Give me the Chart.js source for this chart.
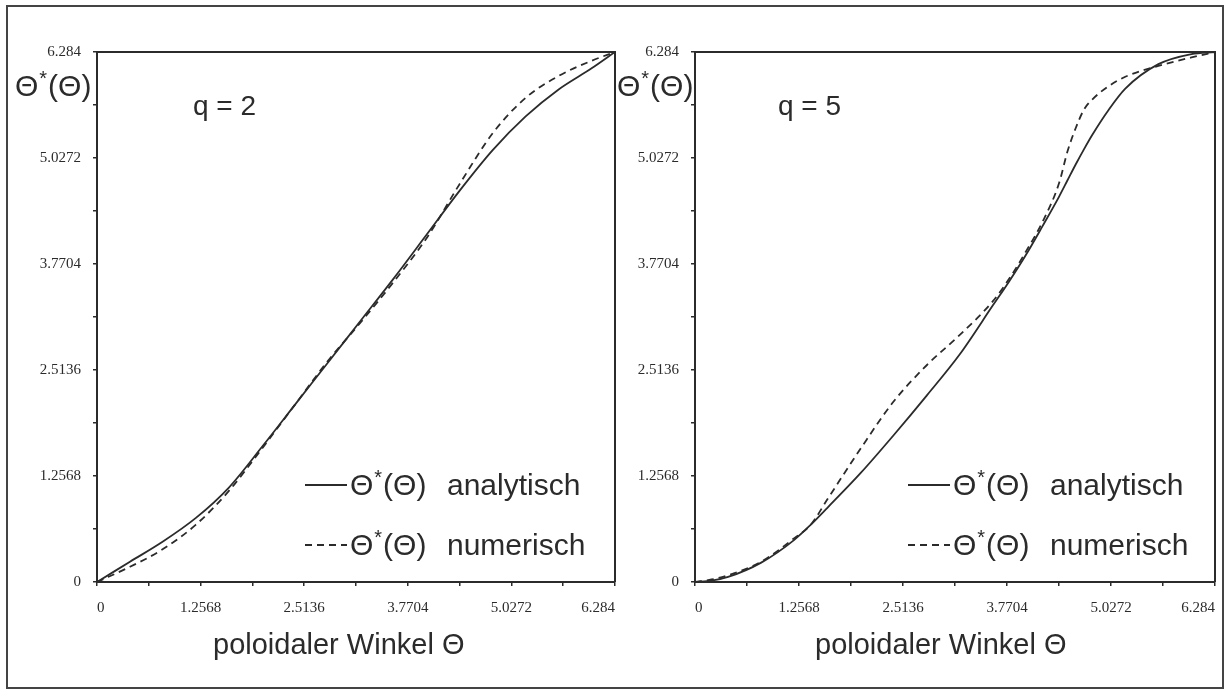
<!DOCTYPE html>
<html>
<head>
<meta charset="utf-8">
<script src="https://cdn.jsdelivr.net/npm/chart.js@4.4.1/dist/chart.umd.min.js"></script>
<style>
    body { margin: 0; background: #fff; width: 1226px; height: 692px; overflow: hidden; position: relative; }
    #frame { position: absolute; left: 6px; top: 5px; width: 1218px; height: 684px; border: 2px solid #444; box-sizing: border-box; }
    .panel { position: absolute; top: 0; }
    #left { left: 0; }
    #right { left: 600px; }
</style>
</head>
<body>
<div id="frame"></div>
<canvas id="left" class="panel" width="650" height="692"></canvas>
<canvas id="right" class="panel" width="626" height="692"></canvas>
<script>
// --- Data ---
const tickValues = [0, 0.6284, 1.2568, 1.8852, 2.5136, 3.142, 3.7704, 4.3988, 5.0272, 5.6556, 6.284];
const tickLabels = ['0', '', '1.2568', '', '2.5136', '', '3.7704', '', '5.0272', '', '6.284'];
const legendWords = ['analytisch', 'numerisch'];

// q = 2
const thetaQ2 = [0, 0.4, 0.8, 1.2, 1.6, 2.0, 2.4, 2.8, 3.2, 3.6, 4.0, 4.4, 4.8, 5.2, 5.6, 6.0, 6.284];
const q2Analytic = [0, 0.24, 0.48, 0.76, 1.12, 1.6, 2.1, 2.6, 3.1, 3.6, 4.12, 4.64, 5.12, 5.52, 5.84, 6.09, 6.284];
const q2Numeric = [0, 0.18, 0.39, 0.68, 1.08, 1.58, 2.1, 2.62, 3.08, 3.56, 4.08, 4.72, 5.32, 5.74, 6.0, 6.18, 6.284];

// q = 5
const thetaQ5 = [0, 0.2, 0.4, 0.8, 1.2, 1.4, 1.6, 2.0, 2.4, 2.8, 3.2, 3.6, 3.8, 4.0, 4.2, 4.4, 4.5, 4.6, 4.7, 4.8, 5.0, 5.2, 5.6, 6.0, 6.284];
const q5Analytic = [0, 0.015, 0.06, 0.23, 0.5, 0.68, 0.88, 1.29, 1.74, 2.21, 2.7, 3.28, 3.57, 3.88, 4.22, 4.57, 4.76, 4.95, 5.13, 5.3, 5.6, 5.85, 6.14, 6.26, 6.284];
const q5Numeric = [0, 0.03, 0.08, 0.24, 0.52, 0.68, 0.98, 1.58, 2.14, 2.57, 2.93, 3.33, 3.6, 3.92, 4.27, 4.73, 5.1, 5.38, 5.6, 5.72, 5.88, 5.99, 6.12, 6.22, 6.284];

const ink = '#2b2b2b';
const serif = '"Liberation Serif", "Times New Roman", serif';
const sans = '"Liberation Sans", Arial, sans-serif';

// Θ*(Θ) with a raised star, returns its width
function drawThetaStar(ctx, x, y, size) {
    ctx.font = `${size}px ${sans}`;
    ctx.fillText('Θ', x, y);
    const w1 = ctx.measureText('Θ').width;
    ctx.font = `${Math.round(size * 0.66)}px ${sans}`;
    ctx.fillText('*', x + w1 + 1, y - size * 0.38);
    const w2 = ctx.measureText('*').width;
    ctx.font = `${size}px ${sans}`;
    ctx.fillText('(Θ)', x + w1 + w2 + 2, y);
    return w1 + w2 + 2 + ctx.measureText('(Θ)').width;
}

// top and right edge of the plot box
const plotBox = {
    id: 'plotBox',
    afterDraw(chart) {
        const { ctx, chartArea: a } = chart;
        ctx.save();
        ctx.strokeStyle = ink;
        ctx.lineWidth = 2;
        ctx.beginPath();
        ctx.moveTo(a.left, a.top);
        ctx.lineTo(a.right, a.top);
        ctx.lineTo(a.right, a.bottom);
        ctx.stroke();
        ctx.restore();
    }
};

// labels, q text and in-plot legend
const panelText = {
    id: 'panelText',
    afterDraw(chart, args, o) {
        const { ctx } = chart;
        ctx.save();
        ctx.fillStyle = ink;
        ctx.textBaseline = 'alphabetic';
        ctx.textAlign = 'left';

        drawThetaStar(ctx, o.yTitleX, 96, 30);

        ctx.font = `28px ${sans}`;
        ctx.fillText(o.qText, o.qX, 115);

        ctx.font = `29px ${sans}`;
        ctx.fillText('poloidaler Winkel Θ', o.xTitleX, 654);

        chart.data.datasets.forEach((ds, i) => {
            const cy = 485 + i * 60;
            ctx.strokeStyle = ink;
            ctx.lineWidth = 1.8;
            ctx.setLineDash(ds.borderDash || []);
            ctx.beginPath();
            ctx.moveTo(o.legX, cy);
            ctx.lineTo(o.legX + 42, cy);
            ctx.stroke();
            ctx.setLineDash([]);
            drawThetaStar(ctx, o.legX + 45, cy + 10, 30);
            ctx.font = `30px ${sans}`;
            ctx.fillText(ds.label, o.legX + 142, cy + 10);
        });
        ctx.restore();
    }
};

function makeAxis(isX, cfg) {
    return {
        type: 'linear',
        min: 0,
        max: 6.284,
        afterBuildTicks: s => { s.ticks = tickValues.map(v => ({ value: v })); },
        ticks: {
            autoSkip: false,
            maxRotation: 0,
            align: isX ? 'inner' : 'center',
            callback: (v, i) => tickLabels[i],
            font: { family: serif, size: 15 },
            color: ink,
            padding: isX ? 13 : 12
        },
        grid: { drawOnChartArea: false, tickLength: 4, color: ink, lineWidth: 1.5 },
        border: { color: ink, width: 2 },
        afterFit: s => {
            if (isX) {
                s.height = 86;
                s.paddingLeft = 0;
                s.paddingRight = 0;
            } else {
                s.width = cfg.yWidth;
                s.paddingTop = 0;
                s.paddingBottom = 0;
            }
        }
    };
}

function makePanel(id, xs, analytic, numeric, cfg) {
    new Chart(document.getElementById(id), {
        type: 'line',
        data: {
            datasets: [
                {
                    label: legendWords[0],
                    data: xs.map((x, i) => ({ x: x, y: analytic[i] })),
                    borderColor: ink,
                    borderWidth: 1.8,
                    pointRadius: 0,
                    cubicInterpolationMode: 'monotone',
                    fill: false
                },
                {
                    label: legendWords[1],
                    data: xs.map((x, i) => ({ x: x, y: numeric[i] })),
                    borderColor: ink,
                    borderWidth: 1.8,
                    borderDash: [7, 5],
                    pointRadius: 0,
                    cubicInterpolationMode: 'monotone',
                    fill: false
                }
            ]
        },
        options: {
            responsive: false,
            animation: false,
            devicePixelRatio: 1,
            layout: { padding: { left: 0, top: 52, right: cfg.padRight, bottom: 24 } },
            plugins: {
                legend: { display: false },
                tooltip: { enabled: false },
                panelText: cfg
            },
            scales: {
                x: makeAxis(true, cfg),
                y: makeAxis(false, cfg)
            }
        },
        plugins: [plotBox, panelText]
    });
}

makePanel('left', thetaQ2, q2Analytic, q2Numeric, {
    yWidth: 97, padRight: 35,
    yTitleX: 15, qText: 'q = 2', qX: 193, xTitleX: 213, legX: 305
});

makePanel('right', thetaQ5, q5Analytic, q5Numeric, {
    yWidth: 95, padRight: 11,
    yTitleX: 17, qText: 'q = 5', qX: 178, xTitleX: 215, legX: 308
});
</script>
</body>
</html>
